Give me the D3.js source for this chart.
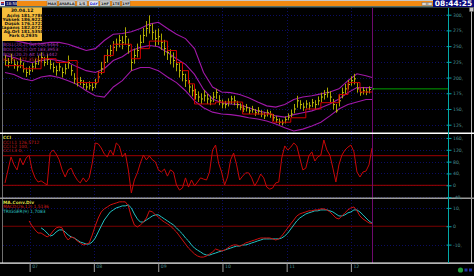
<!DOCTYPE html>
<html>
<head>
<meta charset="utf-8">
<script src="https://cdn.jsdelivr.net/npm/d3@7/dist/d3.min.js"></script>
<style>
  body { margin: 0; background: #000; overflow: hidden; }
  svg { display: block; font-family: "DejaVu Sans", sans-serif; }
</style>
</head>
<body>
<svg id="chart"></svg>
<script>
// values (price bars, one every ~17 days)
const barHigh = [
  236,231,238,229,226,232,224,216,218,223, 230,235,240,233,237,228,224,219,225,216,
  222,235,220,207,200,201,196,192,194,191, 198,210,225,236,245,252,258,262,268,266,
  280,262,240,246,254,268,279,290,299,286, 276,278,270,260,252,245,240,233,224,216,
  206,196,189,182,178,175,180,174,171,177, 182,172,165,163,167,171,171,163,159,156,
  158,153,155,150,153,148,145,149,147,142, 139,135,133,138,143,149,158,171,164,160,
  164,161,166,164,170,176,180,184,178,166, 158,172,184,190,196,202,206,192,183,185,
  183,186,187];
const barLow = [
  219,216,222,214,210,215,208,201,204,209, 214,220,224,218,220,213,208,203,210,200,
  205,214,203,190,186,188,183,180,181,179, 183,193,205,214,224,233,238,242,248,245,
  252,238,211,222,232,244,255,265,270,260, 250,252,244,235,228,221,216,210,200,194,
  185,176,170,165,161,158,162,158,156,161, 166,156,151,151,154,158,156,151,148,145,
  146,142,144,139,141,137,134,138,136,131, 128,125,124,127,132,137,143,152,150,147,
  151,149,153,150,156,161,165,168,160,149, 144,154,167,174,181,187,189,176,171,173,
  172,175,176];
const barClose = [
  227,224,230,221,217,225,214,208,211,217, 222,227,232,224,229,221,216,211,217,208,
  214,224,211,198,192,195,189,185,187,184, 190,201,214,224,235,243,248,253,259,256,
  265,251,224,235,243,256,267,278,283,272, 262,265,256,246,240,233,227,221,211,205,
  195,185,179,173,169,166,171,166,163,169, 176,163,158,157,161,166,163,157,153,150,
  152,147,149,144,147,142,139,144,141,136, 133,129,128,133,137,142,150,163,157,153,
  158,155,160,157,163,169,173,176,169,157, 147,163,176,182,189,195,198,182,176,179,
  177,181,182];

// red step line: bar index where each step starts, and its level
const redStart = [0,6,12,17,21,24,31,33,36,42,45,48,54,57,59,61,63,70,79,89,95,100,105,111,114,118];
const redValue = [219,214,230,224,227,192,208,235,253,230,246,258,243,224,211,190,158,161,142,129,136,150,160,173,192,177];

// bollinger bands, sampled every 3rd bar (plus the last one)
const bandIdx = d3.range(0, 121, 3).concat([122]);
const bandUpper = [262,259,256,253,254,256,256,253,248,243, 246,259,269,270,273,278,285,288,278,269,
  262,246,208,185,177,176,173,168,161,155, 153,157,165,169,171,174,177,182,195,206, 203,200];
const bandMiddle = [235,232,227,224,227,229,227,224,217,211, 208,214,227,233,243,248,251,249,240,230,
  221,205,181,166,160,158,157,152,147,144, 139,137,141,144,147,152,158,166,176,184, 184,184];
const bandLower = [208,205,198,195,201,203,200,195,189,179, 171,169,185,195,211,216,216,211,201,192,
  179,163,152,145,142,141,139,136,134,131, 126,120,115,118,123,129,139,150,157,161, 165,165];

const cciValues = [
  8,52,96,69,52,92,69,92,102,52, 25,11,15,8,1,109,119,106,86,52,
  28,52,58,35,18,8,25,11,25,75, 143,140,126,106,96,119,102,143,133,96,
  109,52,-26,18,42,75,102,86,99,86, 79,52,45,55,31,52,45,1,-16,-9,
  25,-6,18,-2,11,25,21,18,45,119, 136,75,45,1,28,86,109,69,18,31,
  42,42,25,-2,15,38,25,-6,-13,-9, 8,11,92,133,119,129,143,133,92,52,
  58,99,113,82,96,102,153,119,102,58, 11,69,102,119,129,136,113,45,28,45,
  48,69,126];
const cciLevels = [100, 0];

const macdStart = 8;
const macdValues = [
  2.9,0.2,-2.0,-3.7,-3.7,-4.8,-5.8,-4.8,-2.6,-0.9,
  -0.4,-0.9,-5.3,-7.5,-5.8,-6.4,-8.0,-9.1,-10.2,-9.7,
  -9.1,-4.8,0.2,4.5,7.8,9.5,10.5,11.6,12.2,12.7,
  13.3,13.3,13.3,11.1,5.1,0.7,-0.4,0.7,2.3,4.5,
  8.4,7.8,6.2,5.1,3.4,2.3,1.3,0.2,-1.5,-3.1,
  -5.3,-7.5,-9.7,-11.9,-13.5,-15.1,-16.2,-16.8,-16.8,-16.2,
  -15.1,-14.0,-12.4,-13.0,-13.5,-13.0,-11.9,-10.8,-10.2,-10.2,
  -10.8,-10.2,-9.1,-8.6,-8.0,-7.5,-6.9,-6.4,-6.4,-6.4,
  -6.4,-6.9,-7.5,-6.9,-5.3,-3.1,-0.9,1.3,3.4,5.6,
  6.7,7.3,7.8,8.4,8.4,8.9,8.9,9.5,9.5,8.9,
  7.8,6.2,4.5,4.0,5.6,7.3,8.9,10.0,10.5,8.4,
  5.6,4.0,2.9,1.8,1.5];
const triggerStart = 12;
const triggerValues = [
  -0.9,-2.0,-3.7,-5.3,-4.8,-3.1,
  -2.0,-2.0,-3.1,-4.8,-5.8,-6.4,-7.5,-8.6,-9.1,-9.7,
  -9.7,-8.6,-6.4,-3.1,0.2,3.4,5.6,7.8,8.9,10.0,
  10.5,11.1,11.1,11.6,10.0,6.7,4.0,2.3,2.3,3.4,
  4.5,5.6,6.2,6.2,5.1,4.0,2.9,1.8,0.7,-0.9,
  -2.6,-4.2,-6.4,-8.0,-10.2,-11.9,-13.0,-14.0,-15.1,-15.7,
  -15.7,-15.1,-14.6,-14.0,-13.5,-13.0,-12.4,-11.9,-11.3,-10.8,
  -10.8,-10.2,-10.2,-9.7,-9.1,-8.6,-8.0,-7.5,-6.9,-6.9,
  -6.9,-6.9,-6.9,-6.9,-6.4,-5.3,-3.7,-1.5,0.7,2.9,
  4.5,5.6,6.7,7.3,7.8,8.4,8.4,8.9,8.9,8.9,
  8.4,7.8,6.7,5.6,5.6,6.2,7.3,7.8,8.9,8.9,
  7.8,6.2,4.5,2.9,1.7];

const priceTicks = [300,275,250,225,200,175,150,125];
const cciTicks = [160,120,80,40,0,-40];
const macdTicks = [10,0,-10];
const yearTicks = [2007,2008,2009,2010,2011,2012];

const infoRows = [
  ["Açılış","181,7786"],["Yüksek","186,9222"],["Düşük","176,1722"],
  ["Kapanış","182,0721"],["Ağ.Ort","181,5358"],["Fark","0,2935"]];
const bandLegend = ["BOLL(20,2) Üst  200,6464","BOLL(20,2) Ort  183,3953","BOLL(20,2) Alt  165,1442"];
const cciLegend = ["CCI  L1     126,5712","CCI  L2     100,","CCI  L3     0,"];
const macdLegend = ["MACD(26,12)     1,5136", "TRIGGER(9)      1,7083"];
const toolButtons = ["MAX","AYARLA","1/5","DAY","1HF","1TE","1YF"];

// ---- layout ----
const W = 474, H = 276;
const left = 3, axisX = 448.5;
const panels = { price: [8, 133], cci: [134, 198], macd: [199, 263] };
const gridColor = "#0c0c62";
const axisTextColor = "#4c8f92";

const svg = d3.select("#chart").attr("width", W).attr("height", H);
svg.append("rect").attr("width", W).attr("height", H).attr("fill", "#000");

const defs = svg.append("defs");
Object.entries(panels).forEach(([k, [t, b]]) => {
  defs.append("clipPath").attr("id", "clip-" + k)
    .append("rect").attr("x", left).attr("y", t).attr("width", axisX - left).attr("height", b - t);
});

const xTime = d3.scaleTime()
  .domain([new Date(2006, 7, 14), new Date(2012, 3, 30)])
  .range([5, 372]);
const xBar = d3.scaleLinear().domain([0, barClose.length - 1]).range(xTime.range());
const yPrice = d3.scaleLinear().domain([125, 300]).range([124.7, 14.7]);
const yCci = d3.scaleLinear().domain([0, 100]).range([185.3, 155.7]);
const yMacd = d3.scaleLinear().domain([-10, 10]).range([244.6, 207.9]);

// grid
function hGrid(scale, ticks) {
  svg.append("g").selectAll("line").data(ticks).join("line")
    .attr("x1", left).attr("x2", axisX)
    .attr("y1", d => Math.round(scale(d)) + 0.5).attr("y2", d => Math.round(scale(d)) + 0.5)
    .attr("stroke", gridColor).attr("stroke-dasharray", "1,2");
}
hGrid(yPrice, priceTicks);
hGrid(yCci, cciTicks);
hGrid(yMacd, [10, -10]);
svg.append("g").selectAll("line").data(yearTicks).join("line")
  .attr("x1", d => Math.round(xTime(new Date(d, 0, 1))) + 0.5)
  .attr("x2", d => Math.round(xTime(new Date(d, 0, 1))) + 0.5)
  .attr("y1", 8).attr("y2", 263)
  .attr("stroke", gridColor).attr("stroke-dasharray", "1,2");

// ---- price panel ----
const gPrice = svg.append("g").attr("clip-path", "url(#clip-price)");
[bandUpper, bandMiddle, bandLower].forEach(band => {
  gPrice.append("path")
    .datum(band)
    .attr("fill", "none").attr("stroke", "#a018a8").attr("stroke-width", 1.1)
    .attr("d", d3.line().x((d, k) => xBar(bandIdx[k])).y(d => yPrice(d)));
});

const bars = barClose.map((c, i) => ({ i, hi: barHigh[i], lo: barLow[i], close: c }));
gPrice.append("g").selectAll("line").data(bars).join("line")
  .attr("x1", d => Math.round(xBar(d.i)) + 0.5).attr("x2", d => Math.round(xBar(d.i)) + 0.5)
  .attr("y1", d => yPrice(d.hi)).attr("y2", d => yPrice(d.lo))
  .attr("stroke", "#aaa600").attr("stroke-width", 1);
gPrice.append("g").selectAll("line").data(bars).join("line")
  .attr("x1", d => Math.round(xBar(d.i)) + 0.5).attr("x2", d => Math.round(xBar(d.i)) + 2)
  .attr("y1", d => yPrice(d.close)).attr("y2", d => yPrice(d.close))
  .attr("stroke", "#c8c21a").attr("stroke-width", 1);

const redPts = redStart.map((s, k) => [s, redValue[k]]).concat([[barClose.length - 1, redValue[redValue.length - 1]]]);
gPrice.append("path")
  .datum(redPts)
  .attr("fill", "none").attr("stroke", "#d00000").attr("stroke-width", 1)
  .attr("d", d3.line().curve(d3.curveStepAfter).x(d => xBar(d[0])).y(d => yPrice(d[1])));

// ---- CCI panel ----
const gCci = svg.append("g").attr("clip-path", "url(#clip-cci)");
gCci.selectAll("line").data(cciLevels).join("line")
  .attr("x1", left).attr("x2", axisX)
  .attr("y1", d => yCci(d)).attr("y2", d => yCci(d))
  .attr("stroke", "#a00000").attr("stroke-width", 1);
gCci.append("path")
  .datum(cciValues)
  .attr("fill", "none").attr("stroke", "#c80808").attr("stroke-width", 1)
  .attr("d", d3.line().x((d, i) => xBar(i)).y(d => yCci(d)));

// ---- MACD panel ----
const gMacd = svg.append("g").attr("clip-path", "url(#clip-macd)");
gMacd.append("line")
  .attr("x1", left).attr("x2", axisX)
  .attr("y1", yMacd(0)).attr("y2", yMacd(0))
  .attr("stroke", "#7a0000").attr("stroke-width", 1);
gMacd.append("path")
  .datum(triggerValues)
  .attr("fill", "none").attr("stroke", "#22c4c4").attr("stroke-width", 1)
  .attr("d", d3.line().x((d, i) => xBar(i + triggerStart)).y(d => yMacd(d)));
gMacd.append("path")
  .datum(macdValues)
  .attr("fill", "none").attr("stroke", "#d01010").attr("stroke-width", 1)
  .attr("d", d3.line().x((d, i) => xBar(i + macdStart)).y(d => yMacd(d)));

// cursor line and last-price line
const lastX = xTime.range()[1];
svg.append("line")
  .attr("x1", lastX + 0.5).attr("x2", lastX + 0.5).attr("y1", 8).attr("y2", 263)
  .attr("stroke", "#6e0a6e").attr("stroke-width", 1);
svg.append("line")
  .attr("x1", lastX).attr("x2", axisX)
  .attr("y1", yPrice(barClose[barClose.length - 1])).attr("y2", yPrice(barClose[barClose.length - 1]))
  .attr("stroke", "#00a000").attr("stroke-width", 1);

// ---- panel borders ----
svg.append("line").attr("x1", 2.5).attr("x2", 2.5).attr("y1", 8).attr("y2", 263).attr("stroke", "#707070");
svg.append("line").attr("x1", 471.5).attr("x2", 471.5).attr("y1", 8).attr("y2", 263).attr("stroke", "#b8b8b8");
svg.append("rect").attr("x", 0).attr("y", 132.5).attr("width", W).attr("height", 1.5).attr("fill", "#ffffff");
svg.append("rect").attr("x", 0).attr("y", 197.5).attr("width", W).attr("height", 1.5).attr("fill", "#9a9a9a");
svg.append("rect").attr("x", 0).attr("y", 262.5).attr("width", W).attr("height", 1.2).attr("fill", "#ffffff");

// ---- right axes ----
function rightAxis(scale, ticks, fmt) {
  const g = svg.append("g").attr("transform", `translate(${axisX},0)`)
    .call(d3.axisRight(scale).tickValues(ticks).tickSize(3).tickPadding(1.5).tickFormat(fmt));
  g.select(".domain").remove();
  g.selectAll(".tick line").attr("x1", -2).attr("stroke", "#00a8a8");
  g.selectAll(".tick text").attr("fill", axisTextColor).attr("font-size", 4.6).attr("font-family", "DejaVu Sans");
}
rightAxis(yPrice, priceTicks, d => d + ",");
rightAxis(yCci, cciTicks, d => d === 0 ? "0" : d + ",");
rightAxis(yMacd, macdTicks, d => d === 0 ? "0" : d + ",");
svg.append("line").attr("x1", axisX).attr("x2", axisX).attr("y1", 8).attr("y2", 263)
  .attr("stroke", "#00a8a8").attr("stroke-width", 1);

// ---- bottom time axis ----
const gx = svg.append("g").attr("transform", "translate(0,263)")
  .call(d3.axisBottom(xTime).tickValues(yearTicks.map(y => new Date(y, 0, 1)))
    .tickSize(9).tickFormat(d3.timeFormat("%y")));
gx.select(".domain").remove();
gx.selectAll(".tick line").attr("stroke", "#a0a0a0");
gx.selectAll(".tick text")
  .attr("x", 2).attr("y", 1.5).attr("text-anchor", "start")
  .attr("fill", axisTextColor).attr("font-size", 4.6).attr("font-family", "DejaVu Sans");

// bottom-right icons
svg.append("circle").attr("cx", 460.5).attr("cy", 270).attr("r", 2.6).attr("fill", "#1f9a3a");
svg.append("rect").attr("x", 464.5).attr("y", 268.5).attr("width", 3).attr("height", 3).attr("fill", "#2030a0");
svg.append("rect").attr("x", 469).attr("y", 268.5).attr("width", 3).attr("height", 3).attr("fill", "#2030a0");

// ---- legends ----
const legend = svg.append("g").attr("font-size", 4.4);
legend.selectAll("text.band").data(bandLegend).join("text")
  .attr("x", 3).attr("y", (d, i) => 46 + i * 4.8).attr("fill", "#a838b8").text(d => d);
legend.append("text").attr("x", 3).attr("y", 61).attr("fill", "#c81c1c").text("HL.Ort  177,3524");
legend.append("text").attr("x", 3).attr("y", 139).attr("fill", "#d8d840").attr("font-weight", "bold").text("CCI");
legend.selectAll("text.cci").data(cciLegend).join("text")
  .attr("x", 3).attr("y", (d, i) => 143.5 + i * 4.2).attr("fill", "#c81c1c").text(d => d);
legend.append("text").attr("x", 3).attr("y", 204).attr("fill", "#d8d840").attr("font-weight", "bold").text("MA.Conv.Div");
legend.append("text").attr("x", 3).attr("y", 208.3).attr("fill", "#d81c1c").text(macdLegend[0]);
legend.append("text").attr("x", 3).attr("y", 212.6).attr("fill", "#2cc0c0").text(macdLegend[1]);

// info box
svg.append("rect").attr("x", 2).attr("y", 7).attr("width", 40).attr("height", 34).attr("fill", "#f6bd3c");
svg.append("text").attr("x", 22).attr("y", 12).attr("text-anchor", "middle")
  .attr("font-size", 4.6).attr("font-weight", "bold").attr("fill", "#111").text("30.04.12");
const info = svg.append("g").attr("font-size", 4.3).attr("font-weight", "bold").attr("fill", "#111");
info.selectAll("text.k").data(infoRows).join("text")
  .attr("x", 19.5).attr("y", (d, i) => 16.6 + i * 4).attr("text-anchor", "end").text(d => d[0]);
info.selectAll("text.v").data(infoRows).join("text")
  .attr("x", 21).attr("y", (d, i) => 16.6 + i * 4).text(d => d[1]);

// ---- top toolbar ----
svg.append("rect").attr("x", 0).attr("y", 0).attr("width", W).attr("height", 1).attr("fill", "#c8c8c8");
svg.append("rect").attr("x", 0).attr("y", 1).attr("width", W).attr("height", 5).attr("fill", "#f28a12");
svg.append("rect").attr("x", 0).attr("y", 6).attr("width", W).attr("height", 1.5).attr("fill", "#56706a");
svg.append("rect").attr("x", 0).attr("y", 1).attr("width", 5).attr("height", 5).attr("fill", "#e8e8f0");
svg.append("rect").attr("x", 1).attr("y", 2).attr("width", 3).attr("height", 1.5).attr("fill", "#c02020");
svg.append("rect").attr("x", 1).attr("y", 3.5).attr("width", 3).attr("height", 1.5).attr("fill", "#2030a0");
svg.append("rect").attr("x", 5).attr("y", 1).attr("width", 12).attr("height", 5).attr("fill", "#14145a");
svg.append("text").attr("x", 6).attr("y", 5.2).attr("font-size", 4).attr("fill", "#e0e0e0").text("18:58");
const btnX = [47, 59, 77, 89, 100, 112, 122];
const btnW = [10, 16, 10, 9.5, 10, 8, 8];
const btn = svg.append("g").selectAll("g").data(toolButtons).join("g")
  .attr("transform", (d, i) => `translate(${btnX[i]},1)`);
btn.append("rect").attr("width", (d, i) => btnW[i]).attr("height", 5)
  .attr("fill", d => d === "DAY" ? "#ffffff" : "#d4d4d4").attr("stroke", "#707070").attr("stroke-width", 0.4);
btn.append("text").attr("x", (d, i) => btnW[i] / 2).attr("y", 4.1).attr("text-anchor", "middle")
  .attr("font-size", 3.6).attr("font-weight", "bold")
  .attr("fill", d => d === "DAY" ? "#1a2ad0" : "#222").text(d => d);
svg.append("rect").attr("x", 422).attr("y", 2.5).attr("width", 10).attr("height", 3).attr("fill", "#d8d8d8")
  .attr("stroke", "#606060").attr("stroke-width", 0.4);
svg.append("text").attr("x", 427).attr("y", 5).attr("text-anchor", "middle").attr("font-size", 3).attr("fill", "#222").text("III");
svg.append("rect").attr("x", 433).attr("y", 0).attr("width", 41).attr("height", 7).attr("fill", "#0a0a7a");
svg.append("text").attr("x", 453.5).attr("y", 6.2).attr("text-anchor", "middle")
  .attr("font-size", 7.5).attr("font-weight", "bold").attr("fill", "#ffffff").text("08:44:25");
svg.append("rect").attr("x", 469.5).attr("y", 7.5).attr("width", 4).attr("height", 4).attr("fill", "#c8c8c8")
  .attr("stroke", "#606060").attr("stroke-width", 0.4);
</script>
</body>
</html>
